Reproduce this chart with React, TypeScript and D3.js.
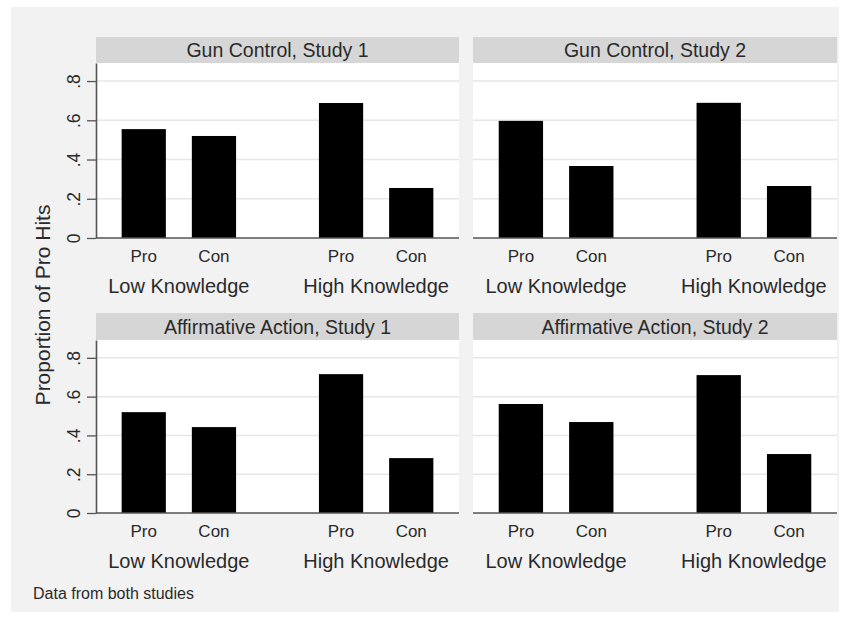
import React, { useEffect, useRef } from 'react';
import * as d3 from 'd3';

const panelTitles = [
    "Gun Control, Study 1",
    "Gun Control, Study 2",
    "Affirmative Action, Study 1",
    "Affirmative Action, Study 2",
];
const groups = ["Low Knowledge", "High Knowledge"];
const stances = ["Pro", "Con"];
// order: Low-Pro, Low-Con, High-Pro, High-Con
const gunStudy1 = [0.555, 0.52, 0.688, 0.255];
const gunStudy2 = [0.597, 0.367, 0.689, 0.265];
const affStudy1 = [0.52, 0.443, 0.716, 0.283];
const affStudy2 = [0.562, 0.469, 0.711, 0.304];
const yTicks = [0, 0.2, 0.4, 0.6, 0.8];
const yTitle = "Proportion of Pro Hits";
const note = "Data from both studies";

const font = "'Liberation Sans', Arial, sans-serif";

const App = () => {
    const ref = useRef<SVGSVGElement>(null);

    useEffect(() => {
        const svg = d3.select(ref.current);
        svg.selectAll("*").remove();

        const width = 852;
        const height = 624;

        svg.append("rect").attr("width", width).attr("height", height).attr("fill", "#ffffff");
        svg.append("rect")
            .attr("x", 11).attr("y", 7)
            .attr("width", 828).attr("height", 605)
            .attr("fill", "#f2f2f2");

        const cols = [[96, 459], [473, 837]];
        const rows = [
            { stripTop: 37, plotTop: 63, base: 238 },
            { stripTop: 313, plotTop: 340, base: 513 },
        ];
        const series = [gunStudy1, gunStudy2, affStudy1, affStudy2];

        series.forEach((values, i) => {
            const col = cols[i % 2];
            const row = rows[Math.floor(i / 2)];
            const w = col[1] - col[0];
            const g = svg.append("g").attr("transform", `translate(${col[0]},0)`);

            const y = d3.scaleLinear().domain([0, 0.892]).range([row.base, row.plotTop]);
            const x0 = d3.scaleBand<string>().domain(groups).range([0, w])
                .paddingInner(0.42).paddingOuter(0.13);
            const x1 = d3.scaleBand<string>().domain(stances).range([0, x0.bandwidth()])
                .paddingInner(0.37).paddingOuter(0);

            // strip
            g.append("rect")
                .attr("x", 0).attr("y", row.stripTop)
                .attr("width", w).attr("height", row.plotTop - row.stripTop)
                .attr("fill", "#d6d6d6");
            g.append("text")
                .attr("x", w / 2).attr("y", (row.stripTop + row.plotTop) / 2)
                .attr("dy", "0.36em")
                .attr("text-anchor", "middle")
                .attr("font-family", font).attr("font-size", 19.5)
                .attr("fill", "#2a2a2a")
                .text(panelTitles[i]);

            // plot area
            g.append("rect")
                .attr("x", 0).attr("y", row.plotTop)
                .attr("width", w).attr("height", row.base - row.plotTop)
                .attr("fill", "#ffffff");

            g.selectAll(".grid")
                .data(yTicks.filter(t => t > 0))
                .enter()
                .append("line")
                .attr("x1", 0).attr("x2", w)
                .attr("y1", d => y(d)).attr("y2", d => y(d))
                .attr("stroke", "#e6e6e6").attr("stroke-width", 1.5);

            const data = values.map((v, k) => ({ group: groups[Math.floor(k / 2)], stance: stances[k % 2], value: v }));

            g.selectAll(".bar")
                .data(data)
                .enter()
                .append("rect")
                .attr("x", d => (x0(d.group) as number) + (x1(d.stance) as number))
                .attr("width", x1.bandwidth())
                .attr("y", d => y(d.value))
                .attr("height", d => y(0) - y(d.value))
                .attr("fill", "#000000");

            // baseline
            g.append("line")
                .attr("x1", 0).attr("x2", w)
                .attr("y1", y(0)).attr("y2", y(0))
                .attr("stroke", "#555").attr("stroke-width", 1.6);

            // category labels
            g.selectAll(".stance")
                .data(data)
                .enter()
                .append("text")
                .attr("x", d => (x0(d.group) as number) + (x1(d.stance) as number) + x1.bandwidth() / 2)
                .attr("y", row.base + 18)
                .attr("dy", "0.36em")
                .attr("text-anchor", "middle")
                .attr("font-family", font).attr("font-size", 17)
                .attr("fill", "#2a2a2a")
                .text(d => d.stance);

            g.selectAll(".group")
                .data(groups)
                .enter()
                .append("text")
                .attr("x", d => (x0(d) as number) + x0.bandwidth() / 2)
                .attr("y", row.base + 48)
                .attr("dy", "0.36em")
                .attr("text-anchor", "middle")
                .attr("font-family", font).attr("font-size", 20)
                .attr("fill", "#2a2a2a")
                .text(d => d);

            // y axis on left column only
            if (i % 2 === 0) {
                const axis = g.append("g")
                    .call(d3.axisLeft(y).tickValues(yTicks).tickSize(9).tickSizeOuter(0)
                        .tickFormat(d => (+d === 0 ? "0" : d3.format(".1f")(+d).replace(/^0/, ""))));
                axis.select(".domain").attr("stroke", "#555").attr("stroke-width", 1.6);
                axis.selectAll(".tick line").attr("stroke", "#555").attr("stroke-width", 1.3);
                axis.selectAll(".tick text")
                    .attr("transform", "rotate(-90)")
                    .attr("x", 0).attr("y", -16).attr("dy", 0)
                    .attr("text-anchor", "middle")
                    .attr("font-family", font).attr("font-size", 17.5)
                    .attr("fill", "#2a2a2a");
            }
        });

        svg.append("text")
            .attr("transform", `translate(50,305) rotate(-90)`)
            .attr("text-anchor", "middle")
            .attr("font-family", font).attr("font-size", 21)
            .attr("fill", "#2a2a2a")
            .text(yTitle);

        svg.append("text")
            .attr("x", 33).attr("y", 593)
            .attr("dy", "0.36em")
            .attr("font-family", font).attr("font-size", 16)
            .attr("fill", "#2a2a2a")
            .text(note);
    }, []);

    return <svg ref={ref} width="852" height="624" style={{ position: "absolute", left: 0, top: 0 }}></svg>;
};

export default App;
